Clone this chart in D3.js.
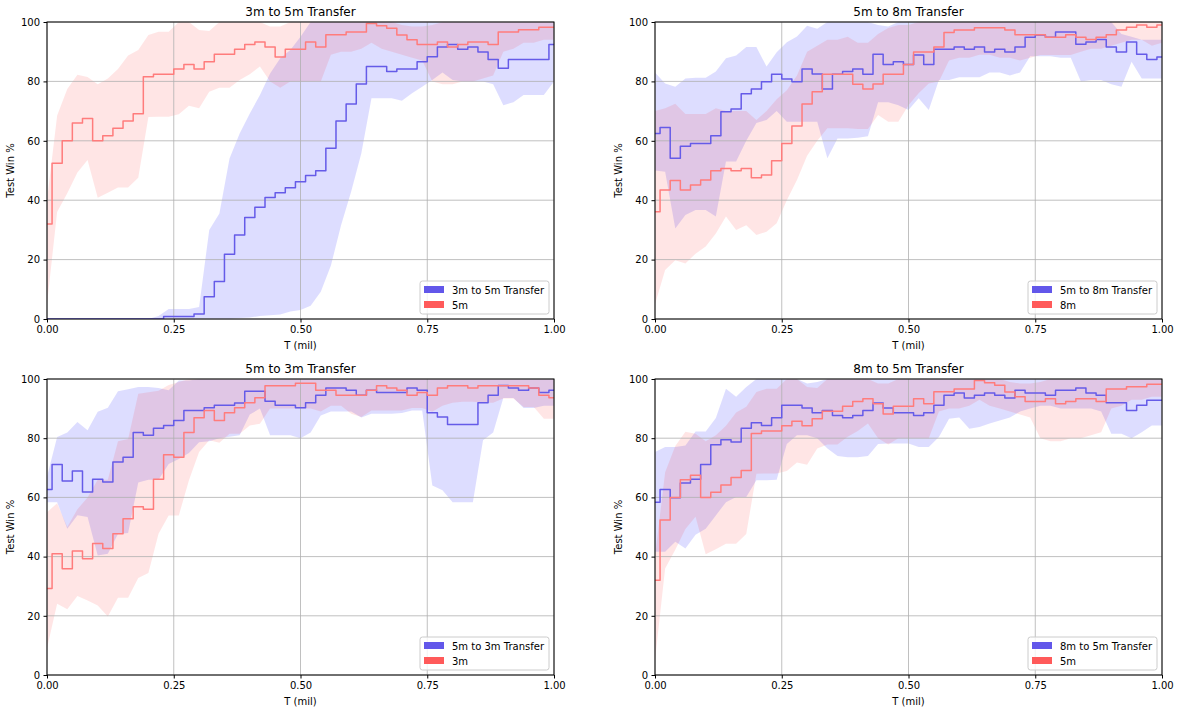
<!DOCTYPE html>
<html>
<head>
<meta charset="utf-8">
<script src="https://cdn.jsdelivr.net/npm/d3@7"></script>
<style>
  body { margin: 0; background: #fff; }
  svg { display: block; font-family: "DejaVu Sans", sans-serif; }
</style>
</head>
<body>
<div id="chart"></div>
<script>
// sample positions along T (mil)
const tSteps = [0,0.02,0.04,0.06,0.08,0.1,0.12,0.14,0.16,0.18,0.2,0.22,0.24,0.26,0.28,0.3,0.32,0.34,0.36,0.38,0.4,0.42,0.44,0.46,0.48,0.5,0.52,0.54,0.56,0.58,0.6,0.62,0.64,0.66,0.68,0.7,0.72,0.74,0.76,0.78,0.8,0.82,0.84,0.86,0.88,0.9,0.92,0.94,0.96,0.98,1];
const xTicks = [0, 0.25, 0.5, 0.75, 1];
const yTicks = [0, 20, 40, 60, 80, 100];

// 3m -> 5m transfer
const t3to5Mean = [0,0,0,0,0,0,0,0,0,0,0,0,0.8,0.8,0.8,1.7,7.5,12.6,21.8,28.3,34.2,37.6,40.9,42.5,44.2,46.2,48.3,49.9,57.5,66.7,72.4,79.1,85,85,83.3,84.2,84.2,86.6,88.3,91.6,92.4,90.8,91.6,89.9,87.4,84.4,87.4,87.4,87.4,87.4,92.4];
const t3to5Lo = [0,0,0,0,0,0,0,0,0,0,0,0,0,0,0,0,0,0,0,0.3,0.5,1,1.3,1.5,2.5,3,4.5,9.2,18,31.6,42.9,55.8,74.3,74.3,74.3,73.5,76,78.2,80.5,83,80.5,80,80,80,79,72,73,75.4,75.4,75.4,80];
const t3to5Hi = [0,0,0,0,0,0,0,0,0,0,0,1,3.4,3.4,3.4,4,30,35.5,54,62.5,69.2,75.4,82.7,87.8,90.6,95,100,100,100,100,100,100,100,100,100,100,100,100,100,100,100,100,100,100,100,100,100,100,100,100,100];

// 5m baseline (same run in both 5m panels)
const m5Mean = [32,52.4,60,66,67.5,60,61.7,64.2,66.7,69.1,81.6,82.4,82.4,84.2,85.7,84.2,86.6,89.1,89.1,90.8,92.4,93.3,91.6,88.2,90.8,90.8,93.3,91.6,95.7,95.7,96.6,96.6,99.5,98.7,97.9,95.6,94,92.4,92.4,93.3,91.6,92.4,93.3,93.3,92.4,96.6,96.6,97.4,97.4,98.2,98.2];
const m5Lo = [5,36,42.3,49.3,53.5,40.8,42.5,44.3,44.3,47.6,68,68.1,68.1,68.9,71.8,71,76.5,77.9,77.9,80.5,82.4,85,80,77.9,80,80,80,80,89,90,90,91,93,91,90,89,88,87,80,79,79,80,80,81,82,90,91,93,93,94,94];
const m5Hi = [40,68.5,77.4,82.2,81.5,79,81,84.2,88.7,90.6,95.6,96.7,96.7,100,100,97.3,97,100,100,100,100,100,98.5,98.5,100,100,100,100,100,100,100,100,100,100,100,99,98.5,98.5,99,100,100,100,100,100,100,100,100,100,100,100,100];

// 5m -> 8m transfer
const t5to8Mean = [62.5,64.5,54.1,58.2,59.1,59.1,61.7,69.8,70.7,75.8,77.4,79.9,82.4,80.8,79.9,84.2,82.5,77.4,82.4,83.3,84.2,82.4,89.1,85.7,86.6,85.7,88.9,85.7,90.8,90.8,91.6,90.8,91.6,89.9,90.8,89.9,91.6,94.9,95.6,94.9,96.6,96.6,92.5,93.3,94.1,91.6,89.9,93.3,89.1,87.4,88.2];
const t5to8Lo = [50,49.6,30.5,35,36.7,36.7,34.5,53,53,60,66,67,70,66.4,66.4,66.4,66.4,54.1,60.8,60.8,61,61.5,73,73,72,70.4,74.3,70.4,80.5,80.5,81.4,81.4,81.4,83,83,82,83,88.5,88.5,88.5,88,88,80,80.5,80.5,79,78.2,86.6,81,81,81];
const t5to8Hi = [83,79.3,78.2,81,81.2,81.2,83.3,87.8,88.7,91.6,91.6,85,89.8,93.2,95.1,98.7,97.7,100,100,100,100,100,99,98.5,100,100,100,100,100,100,100,100,100,100,100,100,100,100,100,100,100,100,100,100,100,100,96,95,94,94,94];

// 8m baseline
const m8Mean = [36.1,43.4,46.6,43.4,45.1,46.8,49.9,50.7,49.9,50.7,47.6,48.5,53.3,59.1,65,72.4,76.5,82.4,82.4,82.4,79,77.4,79.1,82.4,82.4,85.7,89.9,89.9,91.6,96.5,97.3,97.3,98.1,98.1,98.1,97.3,95.7,95.7,95.7,94.9,94.9,95.7,94.9,94.1,94.9,95.7,97.3,98.2,99,98.2,99];
const m8Lo = [5,16.5,19.8,18.7,22,24.4,28.8,34.5,30,31.6,28.3,29.4,32.2,40,46.8,55,60,64.2,64.2,64.2,64,64,68.7,66.4,66.4,72,76,79.3,80,87,88,88,89,89,88,88,87,88,88.9,88.9,88.9,88.9,90,91,91,92,93,94,94,92,93];
const m8Hi = [70,71,72.5,69,69,69,71,70,70,70,67,70,74,77,82,90,92,94,94,95,93,93,96,98,99,99,100,100,100,100,100,100,100,100,100,100,100,100,100,100,100,100,100,100,100,100,100,100,100,100,100];

// 5m -> 3m transfer
const t5to3Mean = [62.7,71.1,65.5,68.9,61.8,66.1,65.2,72,73.6,81.9,81,83.4,84.3,86,89.4,89.4,90.3,91.1,91.1,91.9,95.9,95.9,92.5,91.1,91.1,90.3,92,94.5,97,97,96.2,94.5,96.2,95.4,95.4,95.4,97,96.2,88.6,87.2,84.6,84.6,84.6,92,94.5,97.8,97,96.2,97,95.4,96.2];
const t5to3Lo = [58.4,58.4,49.4,54,53.4,40.4,41,47.6,48,65,66,66,71.3,73,75,78.6,79,80,80.5,81,88,90,81,81,81,80,81.9,87.7,89,89,89,87,88.3,88.3,88.3,88.5,89.4,89.4,64,62.4,58.4,58.4,58.4,79.3,81.9,93.6,93.6,90.2,90.2,91,91];
const t5to3Hi = [67,80.4,81.9,85.5,82.7,88.9,90.3,95.9,96.5,97.3,97.3,97,96.2,99.5,99.5,100,100,100,100,100,100,100,100,100,100,100,100,100,100,100,100,100,100,100,100,100,100,100,100,100,100,100,100,100,100,100,100,100,100,100,100];

// 3m baseline
const m3Mean = [29.2,41,35.9,41.9,39.3,44.4,42.7,47.7,52.8,56.8,56,66.1,74.4,73.6,81.9,86.9,89.4,86,88.6,90.3,92,93.7,97.7,97.7,97.7,98.6,98.6,96.2,96.2,94.5,94.5,94.5,96.2,97.7,97,96.2,94.5,95.4,94.5,97,97.7,97.7,97,97.7,97.7,97.7,97.7,97.7,97,94.5,93.7];
const m3Lo = [9,24.1,22.2,26.7,25.2,23.5,19.8,26.1,26.1,32.8,34.5,47.7,53.9,53.9,65.8,75.3,79.3,78.5,81.5,81.5,84.3,84.9,90,90,90,90,90,89,91,91,88.3,87.2,89.4,89.4,89.4,89.4,90.2,90.2,88.9,91,92,92.3,92.3,92,92,93.4,93.4,90.5,90.5,86.6,86.6];
const m3Hi = [55,58,50,56,60,66,66,79,79.7,95,95.5,96,98,99,100,100,100,100,100,100,100,100,100,100,100,100,100,100,100,100,100,100,100,100,100,100,100,100,100,100,100,100,100,100,100,100,100,100,100,100,100];

// 8m -> 5m transfer
const t8to5Mean = [58.4,62.7,59.9,64.9,66.1,71.1,77.8,79.5,78.7,83.4,85.2,84.3,86.9,91.1,91.1,90.2,88.6,89.4,87.7,86.9,87.7,89.4,91.9,90.2,88.6,88.6,87.7,88.6,91.1,94.5,95.3,93.6,94.5,95.3,94.5,93.6,96.2,95.3,95.3,94.5,96.2,96.2,97,95.3,94.5,92,92,89.4,91.1,92.8,92.8];
const t8to5Lo = [41.6,41.6,45,42.7,47.4,49.4,53.9,58.4,60.1,60.1,65.8,65.8,66,78,81,81,80,76.5,74,73.6,73.6,74,78,78.2,78.2,78.2,77,77,80.4,86.6,87,83.2,83.8,85,86,87,89,90,91,91,90,90,90,90,89,81.5,81.5,80,82,84.3,84.3];
const t8to5Hi = [75.3,77,77,77.5,82.3,82.3,86.8,96.7,94,97.3,100,100,100,100,100,98.5,99,100,100,100,100,100,100,100,100,100,100,100,100,100,100,100,100,100,100,100,100,100,100,100,100,100,100,100,100,100,100,100,100,100,100];

const blueLine = "#655be8", redLine = "#ff7c7c";
const bluePatch = "#6257ea", redPatch = "#ff5a5a";

const panels = [
  {title: "3m to 5m Transfer", left: 47, top: 22, w: 507, h: 297,
   blue: {mean: t3to5Mean, lo: t3to5Lo, hi: t3to5Hi, label: "3m to 5m Transfer"},
   red: {mean: m5Mean, lo: m5Lo, hi: m5Hi, label: "5m"}},
  {title: "5m to 8m Transfer", left: 655, top: 22, w: 507, h: 297,
   blue: {mean: t5to8Mean, lo: t5to8Lo, hi: t5to8Hi, label: "5m to 8m Transfer"},
   red: {mean: m8Mean, lo: m8Lo, hi: m8Hi, label: "8m"}},
  {title: "5m to 3m Transfer", left: 47, top: 379, w: 507, h: 296,
   blue: {mean: t5to3Mean, lo: t5to3Lo, hi: t5to3Hi, label: "5m to 3m Transfer"},
   red: {mean: m3Mean, lo: m3Lo, hi: m3Hi, label: "3m"}},
  {title: "8m to 5m Transfer", left: 655, top: 379, w: 507, h: 296,
   blue: {mean: t8to5Mean, lo: t8to5Lo, hi: t8to5Hi, label: "8m to 5m Transfer"},
   red: {mean: m5Mean, lo: m5Lo, hi: m5Hi, label: "5m"}}
];

const svg = d3.select("#chart").append("svg")
  .attr("width", 1181)
  .attr("height", 713);

function drawPanel(p, idx) {
  const x = d3.scaleLinear().domain([0, 1]).range([p.left, p.left + p.w]);
  const y = d3.scaleLinear().domain([0, 100]).range([p.top + p.h, p.top]);
  const g = svg.append("g");

  g.append("clipPath").attr("id", "clip" + idx)
    .append("rect")
    .attr("x", p.left).attr("y", p.top)
    .attr("width", p.w).attr("height", p.h);

  const area = d3.area()
    .x((d, i) => x(tSteps[i]))
    .y0(d => y(d[0]))
    .y1(d => y(d[1]));
  // mean curves look stair-like in the original
  const line = d3.line()
    .curve(d3.curveStep)
    .x((d, i) => x(tSteps[i]))
    .y(d => y(d));

  // shaded bands
  const bands = g.append("g").attr("clip-path", `url(#clip${idx})`);
  bands.append("path").datum(d3.zip(p.blue.lo, p.blue.hi))
    .attr("d", area).attr("fill", "#0000ff").attr("fill-opacity", 0.135);
  bands.append("path").datum(d3.zip(p.red.lo, p.red.hi))
    .attr("d", area).attr("fill", "#ff0000").attr("fill-opacity", 0.1);

  // grid
  const grid = g.append("g").attr("stroke", "#b0b0b0").attr("stroke-width", 0.8);
  grid.selectAll("line.gx").data(xTicks).join("line")
    .attr("class", "gx")
    .attr("x1", d => x(d)).attr("x2", d => x(d))
    .attr("y1", p.top).attr("y2", p.top + p.h);
  grid.selectAll("line.gy").data(yTicks).join("line")
    .attr("class", "gy")
    .attr("x1", p.left).attr("x2", p.left + p.w)
    .attr("y1", d => y(d)).attr("y2", d => y(d));

  // mean lines
  const lines = g.append("g").attr("clip-path", `url(#clip${idx})`)
    .attr("fill", "none").attr("stroke-width", 1.5).attr("stroke-linejoin", "round");
  lines.append("path").datum(p.blue.mean).attr("d", line).attr("stroke", blueLine);
  lines.append("path").datum(p.red.mean).attr("d", line).attr("stroke", redLine);

  // axes
  const xAxis = g.append("g")
    .attr("transform", `translate(0,${p.top + p.h})`)
    .call(d3.axisBottom(x).tickValues(xTicks).tickFormat(d3.format(".2f")).tickSize(3.5).tickPadding(3.5));
  const yAxis = g.append("g")
    .attr("transform", `translate(${p.left},0)`)
    .call(d3.axisLeft(y).tickValues(yTicks).tickFormat(d3.format("d")).tickSize(3.5).tickPadding(3.5));
  [xAxis, yAxis].forEach(a => {
    a.select(".domain").remove();
    a.attr("font-family", "DejaVu Sans").attr("font-size", 10);
    a.selectAll("text").attr("fill", "#000");
    a.selectAll("line").attr("stroke", "#000");
  });

  // spines
  g.append("rect")
    .attr("x", p.left).attr("y", p.top)
    .attr("width", p.w).attr("height", p.h)
    .attr("fill", "none").attr("stroke", "#000").attr("stroke-width", 1);

  // title and labels
  g.append("text")
    .attr("x", p.left + p.w / 2).attr("y", p.top - 6)
    .attr("text-anchor", "middle").attr("font-size", 12)
    .text(p.title);
  g.append("text")
    .attr("x", p.left + p.w / 2).attr("y", p.top + p.h + 30)
    .attr("text-anchor", "middle").attr("font-size", 10)
    .text("T (mil)");
  g.append("text")
    .attr("transform", `translate(${p.left - 33},${p.top + p.h / 2}) rotate(-90)`)
    .attr("text-anchor", "middle").attr("font-size", 10)
    .text("Test Win %");

  // legend, lower right
  const items = [{label: p.blue.label, color: bluePatch}, {label: p.red.label, color: redPatch}];
  const leg = g.append("g");
  const box = leg.append("rect");
  const texts = leg.selectAll("text").data(items).join("text")
    .attr("x", 32).attr("y", (d, i) => 9 + i * 15)
    .attr("dy", "0.35em").attr("font-size", 10)
    .text(d => d.label);
  const tw = d3.max(texts.nodes(), n => n.getComputedTextLength());
  const bw = 32 + tw + 5, bh = 33;
  box.attr("width", bw).attr("height", bh).attr("rx", 2.5)
    .attr("fill", "#fff").attr("fill-opacity", 0.8)
    .attr("stroke", "#cccccc").attr("stroke-width", 1);
  leg.selectAll("rect.patch").data(items).join("rect")
    .attr("class", "patch")
    .attr("x", 4).attr("y", (d, i) => 5 + i * 15)
    .attr("width", 20).attr("height", 7)
    .attr("fill", d => d.color);
  leg.attr("transform", `translate(${p.left + p.w - 5 - bw},${p.top + p.h - 5 - bh})`);
}

panels.forEach(drawPanel);
</script>
</body>
</html>
